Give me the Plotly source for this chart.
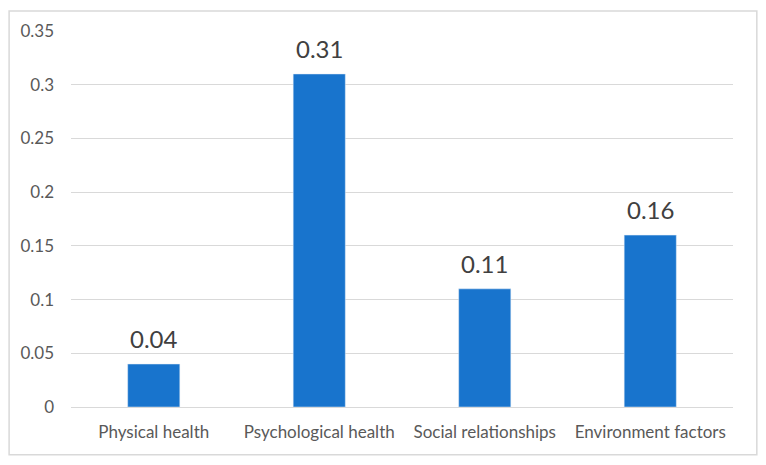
import plotly.graph_objects as go

categories = ["Physical health", "Psychological health", "Social relationships", "Environment factors"]
values = [0.04, 0.31, 0.11, 0.16]
value_labels = ["0.04", "0.31", "0.11", "0.16"]
tick_vals = [0, 0.05, 0.1, 0.15, 0.2, 0.25, 0.3, 0.35]
tick_text = ["0", "0.05", "0.1", "0.15", "0.2", "0.25", "0.3", "0.35"]

fig = go.Figure(go.Bar(
    x=categories, y=values,
    marker=dict(color="#1874CD"), cliponaxis=False,
))

annotations = [
    dict(x=c, y=v, text=t, showarrow=False, xref="x", yref="y",
         yanchor="bottom", yshift=9,
         font=dict(size=24, color="#404040", family="Lato"))
    for c, v, t in zip(categories, values, value_labels)
]

fig.update_layout(
    width=766, height=465,
    margin=dict(l=63, r=41, t=21, b=66),
    paper_bgcolor="white", plot_bgcolor="white",
    bargap=0.685, showlegend=False,
    font=dict(family="Lato", color="#595959", size=17),
    annotations=annotations,
    shapes=[dict(type="rect", xref="paper", yref="paper",
                 x0=-0.0935, x1=1.036, y0=-0.127, y1=1.053,
                 line=dict(color="#D9D9D9", width=1.5), fillcolor="rgba(0,0,0,0)", layer="below")],
)
fig.update_yaxes(range=[0, 0.35], tickvals=tick_vals, ticktext=tick_text,
                 showgrid=True, gridcolor="#D9D9D9", gridwidth=1,
                 zeroline=True, zerolinecolor="#D9D9D9", zerolinewidth=1,
                 showline=False, ticks="", ticklabelstandoff=16,
                 tickfont=dict(size=17, color="#595959"))
fig.update_xaxes(showline=False, ticks="", ticklabelstandoff=13,
                 tickfont=dict(size=17, color="#595959"))

fig.write_html("out.html")
